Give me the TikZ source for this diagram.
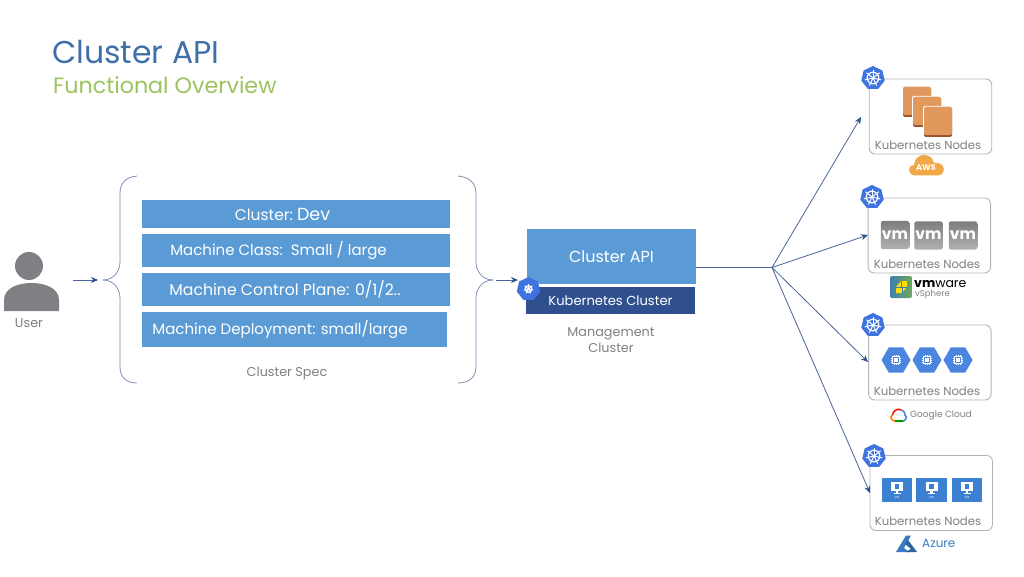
\documentclass[tikz,border=0pt]{standalone}
\usepackage{fontspec}
\setmainfont{Poppins}
\usetikzlibrary{arrows.meta,shapes.geometric}
\definecolor{barblue}{HTML}{5B9BD5}
\definecolor{navy}{HTML}{2F4F8F}
\definecolor{helm}{HTML}{3F74E0}
\definecolor{linecol}{HTML}{4A6499}
\definecolor{bracecol}{HTML}{7F90B5}
\definecolor{txtgray}{HTML}{808084}
\definecolor{boxgray}{HTML}{B4B4B8}
\definecolor{titleblue}{HTML}{3F6FA8}
\definecolor{titlegreen}{HTML}{9BC45F}
\definecolor{awsor}{HTML}{E0985C}
\definecolor{awsdk}{HTML}{99592E}
\definecolor{awscl}{HTML}{F0A946}
\definecolor{vmtop}{HTML}{7E7E80}
\definecolor{vmbot}{HTML}{B0B0B2}
\definecolor{hexblue}{HTML}{4A86E0}
\definecolor{aztile}{HTML}{3C80D2}
\definecolor{azblue}{HTML}{3A7CC4}
\definecolor{vsa}{HTML}{3E7FB0}
\definecolor{vsb}{HTML}{6FA85A}
\newcommand{\fs}[1]{\fontsize{#1}{#1}\selectfont}
\tikzset{
  x=1pt,y=-1pt,
  bar/.style={fill=barblue,draw=none,inner sep=0pt,text=white,font=\fs{15}},
  nodebox/.style={draw=boxgray,line width=0.9pt,rounded corners=6pt,fill=white,minimum width=122.5pt,minimum height=75pt,inner sep=0pt},
  nodelabel/.style={text=txtgray,font=\fs{11.7},inner sep=0pt},
  caption/.style={text=txtgray,font=\fs{12.8},inner sep=0pt,align=center},
  conn/.style={draw=linecol,line width=0.8pt},
  arr/.style={conn,-{Stealth[length=7pt,width=6pt,color=navy]}},
  brace/.style={draw=bracecol,line width=0.8pt},
  vmtile/.style={top color=vmtop,bottom color=vmbot,rounded corners=2pt,minimum width=28.5pt,minimum height=28pt,inner sep=0pt,text=white,font=\bfseries\fs{15.5}},
  hextile/.style={regular polygon,regular polygon sides=6,fill=hexblue,minimum size=29pt,inner sep=0pt},
  azuretile/.style={fill=aztile,minimum width=30.5pt,minimum height=24.5pt,inner sep=0pt},
  awstile/.style={fill=awsor,rounded corners=2pt,minimum width=28pt,minimum height=30pt,inner sep=0pt},
  helmicon/.pic={
    \node[regular polygon,regular polygon sides=7,fill=helm,minimum size=24pt,inner sep=0pt] {};
    \draw[white,line width=1.2pt] (0,0) circle[radius=5.8];
    \foreach \a in {90,141.4,192.9,244.3,295.7,347.1,38.6}
      \draw[white,line width=1pt] (0,0) -- (\a:-8.4);
    \fill[white] (0,0) circle[radius=1.5];
  },
  chip/.pic={
    \foreach \d in {-2,0,2}{
      \draw[white,line width=0.4pt] (\d,-5) -- (\d,5) (-5,\d) -- (5,\d);}
    \fill[hexblue] (-3.6,-3.6) rectangle (3.6,3.6);
    \draw[white,line width=0.7pt] (-3.4,-3.4) rectangle (3.4,3.4);
    \fill[white] (-1.7,-1.7) rectangle (1.7,1.7);
  },
  screen/.pic={
    \fill[white] (-6,-6) rectangle (6,3);
    \fill[aztile] (-2.4,-3.8) rectangle (2.4,0.8);
    \fill[white] (-1.2,3) rectangle (1.2,5.5);
    \fill[white] (-3.5,5.2) rectangle (3.5,6);
    \node[text=white,font=\fs{3},inner sep=0pt] at (0,9) {VM};
  }
}
\begin{document}
\begin{tikzpicture}
\useasboundingbox[fill=white] (0,0) rectangle (1024,577);

% title
\node[anchor=base west,inner sep=0pt,text=titleblue,font=\fs{31.5}] (title) at (52,63.5) {Cluster API};
\node[anchor=base west,inner sep=0pt,text=titlegreen,font=\fs{22.2}] (sub) at (53,94) {Functional Overview};

% user
\fill[txtgray] (29,266) circle[radius=14];
\fill[txtgray] (4,311) -- (4,300) .. controls (4,288) and (18,283) .. (31.5,283) .. controls (45,283) and (59,288) .. (59,300) -- (59,311) -- cycle;
\node[caption] (user) at (29,323) {User};

% spec bars
\node[bar,minimum width=308pt,minimum height=28pt] (b1) at (296,214) {\hspace*{-27pt}\raisebox{-2.5pt}{\fs{15.5}Cluster:\ {\fs{17.5}Dev}}};
\node[bar,minimum width=308pt,minimum height=33pt] (b2) at (296,250.5) {\hspace*{-35pt}Machine Class:\ \ Small / large};
\node[bar,minimum width=308pt,minimum height=33pt] (b3) at (296,289.5) {\hspace*{-22pt}{\fs{15.7}Machine Control Plane: 0/1/2..}};
\node[bar,minimum width=305pt,minimum height=35pt] (b4) at (294.5,329.5) {\hspace*{-29pt}Machine Deployment: small/large};
\node[caption] (spec) at (287,373) {Cluster Spec};

% braces
\coordinate (ltip) at (103,280);
\coordinate (rtip) at (493,280);
\draw[brace] (137,176) .. controls (126,177) and (120,183) .. (120,193) -- (120,262) .. controls (120,272) and (113,280) .. (ltip);
\draw[brace] (ltip) .. controls (113,280) and (120,288) .. (120,298) -- (120,367) .. controls (120,377) and (126,383) .. (137,383);
\draw[brace] (458,176) .. controls (469,177) and (476,183) .. (476,193) -- (476,262) .. controls (476,272) and (483,280) .. (rtip);
\draw[brace] (rtip) .. controls (483,280) and (476,288) .. (476,298) -- (476,367) .. controls (476,377) and (469,383) .. (458,383);

% management cluster
\node[fill=barblue,minimum width=169pt,minimum height=55pt,inner sep=0pt,text=white,font=\fs{16}] (api) at (611.5,256.5) {Cluster API};
\node[fill=navy,minimum width=169pt,minimum height=27pt,inner sep=0pt,text=white,font=\fs{13.1}] (k8s) at (610.5,300.5) {Kubernetes Cluster};
\fill[white] (522,281) rectangle (536,296);
\pic[scale=0.58] at (528.5,289) {helmicon};
\node[caption] (mgmt) at (611,340) {Management\\[2.5pt]Cluster};

% node boxes
\node[nodebox] (n1) at (930.5,116.5) {};
\node[nodebox] (n2) at (929.3,235.5) {};
\node[nodebox] (n3) at (929.8,362.5) {};
\node[nodebox] (n4) at (931.2,493) {};
\node[nodelabel] (l1) at (928,145) {Kubernetes Nodes};
\node[nodelabel] (l2) at (927,264) {Kubernetes Nodes};
\node[nodelabel] (l3) at (927,391) {Kubernetes Nodes};
\node[nodelabel] (l4) at (928,521) {Kubernetes Nodes};
\pic at (873,78) {helmicon};
\pic at (872,197) {helmicon};
\pic at (873,325) {helmicon};
\pic at (874,456) {helmicon};

% AWS content
\foreach \x/\y in {917/102,927/112,938/122}{
  \fill[white,rounded corners=2pt] (\x-15,\y-16) rectangle (\x+15,\y+16);
  \node[awstile,fill=awsdk] at (\x,\y) {};
  \node[awstile,minimum height=28pt] at (\x,\y-1) {};
}
\fill[awscl] (916,175.5) .. controls (906,175.5) and (908,164) .. (914,165) .. controls (915,152) and (932,152) .. (934,163) .. controls (946,161) and (947,175.5) .. (937,175.5) -- cycle;
\node[text=white,font=\bfseries\fs{8.2},inner sep=0pt] (aws) at (926,168) {AWS};

% vSphere content
\node[vmtile] (vm1) at (895,235) {vm};
\node[vmtile] (vm2) at (928.5,235.5) {vm};
\node[vmtile] (vm3) at (963,235.5) {vm};
\shade[rounded corners=2pt,left color=vsa,right color=vsb] (890,276) rectangle (912,298);
\fill[fill=yellow!80!orange] (896,287) -- (901,281) -- (907,281) -- (907,287) -- (902,293) -- (896,293) -- cycle;
\draw[vsa,line width=0.7pt] (901,287) -- (901,281) (896,287) -- (907,287) (902,287) -- (902,293);
\node[anchor=base west,inner sep=0pt,font=\bfseries\fs{12.5}] (vmw) at (914,287) {vm\textmd{ware}};
\node[anchor=base west,inner sep=0pt,text=txtgray,font=\fs{8.5}] (vsp) at (915,296) {vSphere};

% Google content
\foreach \x in {896,927,958}{
  \node[hextile] at (\x,360) {};
  \pic at (\x,360) {chip};
}
\draw[line width=1.6pt,red!80!orange] (892.5,415) .. controls (893,410) and (899,408) .. (901,410);
\draw[line width=1.6pt,orange] (892.5,415) .. controls (889,417) and (892,421) .. (895,421);
\draw[line width=1.6pt,hexblue] (901,410) .. controls (905,411) and (905,414) .. (905,415) .. controls (908,417) and (905,421) .. (903,421);
\draw[line width=1.6pt,green!60!black] (895,421) -- (903,421);
\node[anchor=west,inner sep=0pt,text=txtgray,font=\fs{9}] (gc) at (910,415.5) {Google Cloud};

% Azure content
\foreach \x in {897,931.5,967}{
  \node[azuretile] at (\x,490) {};
  \pic at (\x,488) {screen};
}
\fill[azblue] (896,552) -- (906,535.5) -- (911,535.5) -- (904,548) -- (909,552) -- cycle;
\fill[azblue!80!black] (908,540) -- (917,552) -- (905,552) -- (911,549) -- (905,544) -- cycle;
\node[anchor=west,inner sep=0pt,text=azblue,font=\fs{12}] (az) at (922,543) {Azure};

% connectors
\coordinate (hub) at (772,267.5);
\coordinate (in1) at (861,117);
\coordinate (in2) at (868,235);
\coordinate (in3) at (868,362);
\coordinate (in4) at (870,493);
\coordinate (ua) at (73,280);
\coordinate (ub) at (98,280);
\coordinate (ca) at (496,280);
\coordinate (cb) at (518,280);
\draw[arr] (ua) -- (ub);
\draw[arr] (ca) -- (cb);
\draw[conn] (api.east |- hub) -- (hub);
\draw[arr] (hub) -- (in1);
\draw[arr] (hub) -- (in2);
\draw[arr] (hub) -- (in3);
\draw[arr] (hub) -- (in4);
\end{tikzpicture}
\end{document}
